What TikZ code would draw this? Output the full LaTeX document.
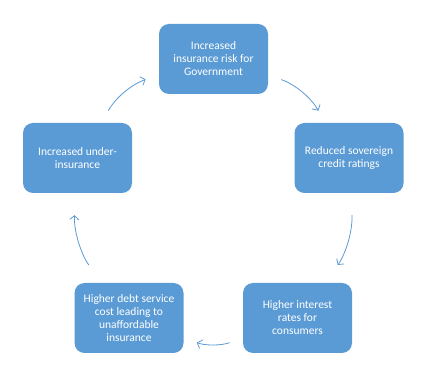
\documentclass[tikz,border=0pt]{standalone}
\usepackage{fontspec}
\setmainfont{Carlito}
\usetikzlibrary{calc, positioning}
\usetikzlibrary{arrows.meta}
\definecolor{cycleblue}{HTML}{5B9BD5}

\begin{document}
\begin{tikzpicture}[x=1pt,y=1pt,
  stage/.style={fill=cycleblue,rounded corners=10pt,minimum width=109pt,
    minimum height=70pt,inner sep=0pt,text=white,align=center,
    font=\fontsize{11.5}{13}\selectfont},
  cyc/.style={draw=cycleblue,line width=0.8pt,
    -{Straight Barb[length=4pt,width=9pt]},
    shorten <=14pt,shorten >=14pt},
  longcyc/.style={cyc,shorten <=22pt,shorten >=22pt}]
\useasboundingbox (0,0) rectangle (434,372);

\node[stage] (Risk) at (213.5,313) {Increased\\insurance risk for\\Government};
\node[stage] (Rating) at (349,214) {Reduced sovereign\\credit ratings};
\node[stage] (Rates) at (297.5,54) {Higher interest\\rates for\\consumers};
\node[stage] (Debt) at (129,54) {Higher debt service\\cost leading to\\unaffordable\\insurance};
\node[stage] (Under) at (77.5,214) {Increased under-\\insurance};

\draw[cyc] (Risk) to[bend left=20] (Rating);
\draw[longcyc] (Rating) to[bend left=20] (Rates);
\draw[cyc] (Rates) to[bend left=20] (Debt);
\draw[longcyc] (Debt) to[bend left=20] (Under);
\draw[cyc] (Under) to[bend left=20] (Risk);
\end{tikzpicture}
\end{document}
